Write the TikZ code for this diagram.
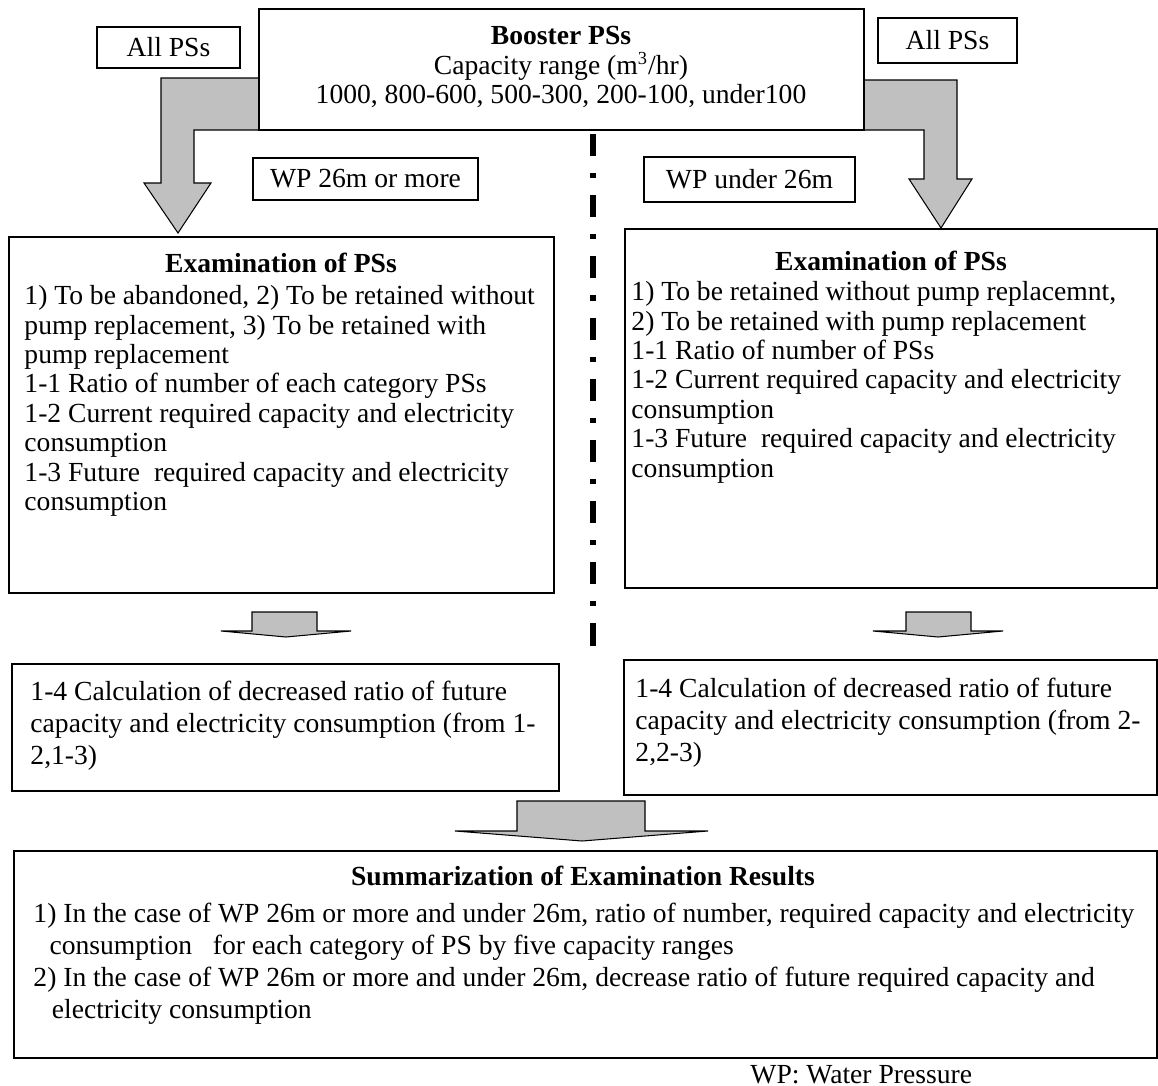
\documentclass[tikz,border=0pt]{standalone}
\usepackage{fontspec}
\setmainfont{Liberation Serif}
\usetikzlibrary{fit}
\definecolor{agray}{RGB}{192,192,192}
\begin{document}
\begin{tikzpicture}[x=0.4348pt,y=-0.4348pt,
  box/.style={draw,line width=0.8pt,inner sep=0pt},
  lbl/.style={inner sep=0pt,font=\fontsize{12}{13.8}\selectfont},
  body/.style={lbl,align=left,anchor=north west},
  mid/.style={body,font=\fontsize{12}{12.8}\selectfont},
  ttl/.style={lbl,font=\fontsize{12}{13.8}\selectfont\bfseries,anchor=base},
  blk/.style={draw,line width=0.45pt,fill=agray,line join=miter},
  sep/.style={line width=2.2pt,dash pattern=on 9.6pt off 7.4pt on 2.2pt off 7.4pt}
]
\useasboundingbox (0,0) rectangle (1158,1086);
\fill[white] (0,0) rectangle (1158,1086);

% block arrows
\draw[blk] (259,78) -- (161,78) -- (161,183) -- (144,183) -- (178,233) -- (211,183) -- (194,183) -- (194,130) -- (259,130) -- cycle;
\draw[blk] (864,80) -- (957,80) -- (957,179) -- (972,179) -- (941,228) -- (909,179) -- (924,179) -- (924,130) -- (864,130) -- cycle;
\draw[blk] (252,612) -- (317,612) -- (317,631) -- (351,631) -- (286,637) -- (221,631) -- (252,631) -- cycle;
\draw[blk] (906,612) -- (971,612) -- (971,631) -- (1003,631) -- (938,637) -- (873,631) -- (906,631) -- cycle;
\draw[blk] (517,801) -- (645,801) -- (645,831) -- (708,831) -- (582,841) -- (455,831) -- (517,831) -- cycle;

% top box
\node[box,fit={(259,9)(864,130)}] (boost) {};
\node[lbl,align=center,font=\fontsize{12}{12.8}\selectfont] (boostt) at (561,67) {\textbf{Booster PSs}\\Capacity range (m\textsuperscript{3}/hr)\\1000, 800-600, 500-300, 200-100, under100};

\node[box,fit={(97,27)(240,68)}] (allL) {};
\node[lbl] (allLt) at (allL) {All PSs};
\node[box,fit={(878,18)(1017,63)}] (allR) {};
\node[lbl] (allRt) at (allR) {All PSs};

\node[box,fit={(253,158)(478,200)}] (wpA) {};
\node[lbl] (wpAt) at (wpA) {WP 26m or more};
\node[box,fit={(644,157)(855,202)}] (wpB) {};
\node[lbl] (wpBt) at (wpB) {WP under 26m};

% separator
\coordinate (d1) at (593,134);
\coordinate (d2) at (593,649);
\draw[sep] (d1) -- (d2);

% examination boxes
\node[box,fit={(9,237)(554,593)}] (exL) {};
\node[ttl] (exLt) at (281,272) {Examination of PSs};
\node[mid] (exLb) at (24,285) {1) To be abandoned, 2) To be retained without\\pump replacement, 3) To be retained with\\pump replacement\\1-1 Ratio of number of each category PSs\\1-2 Current required capacity and electricity\\consumption\\1-3 Future\ \ required capacity and electricity\\consumption};

\node[box,fit={(625,229)(1157,588)}] (exR) {};
\node[ttl] (exRt) at (891,270) {Examination of PSs};
\node[mid] (exRb) at (631,281) {1) To be retained without pump replacemnt,\\2) To be retained with pump replacement\\1-1 Ratio of number of PSs\\1-2 Current required capacity and electricity\\consumption\\1-3 Future\ \ required capacity and electricity\\consumption};

% 1-4 boxes
\node[box,fit={(12,664)(559,791)}] (caL) {};
\node[body] (caLb) at (30,681) {1-4 Calculation of decreased ratio of future\\capacity and electricity consumption (from 1-\\2,1-3)};
\node[box,fit={(624,660)(1157,795)}] (caR) {};
\node[body] (caRb) at (635,678) {1-4 Calculation of decreased ratio of future\\capacity and electricity consumption (from 2-\\2,2-3)};

% summary
\node[box,fit={(14,851)(1157,1058)}] (sum) {};
\node[ttl] (sumt) at (583,885) {Summarization of Examination Results};
\node[body] (sumb) at (33,903) {1) In the case of WP 26m or more and under 26m, ratio of number, required capacity and electricity\\\hspace*{7pt}consumption\ \ \ for each category of PS by five capacity ranges\\2) In the case of WP 26m or more and under 26m, decrease ratio of future required capacity and\\\hspace*{8pt}electricity consumption};

\node[lbl,anchor=base west] (note) at (750,1083) {WP: Water Pressure};
\end{tikzpicture}
\end{document}
